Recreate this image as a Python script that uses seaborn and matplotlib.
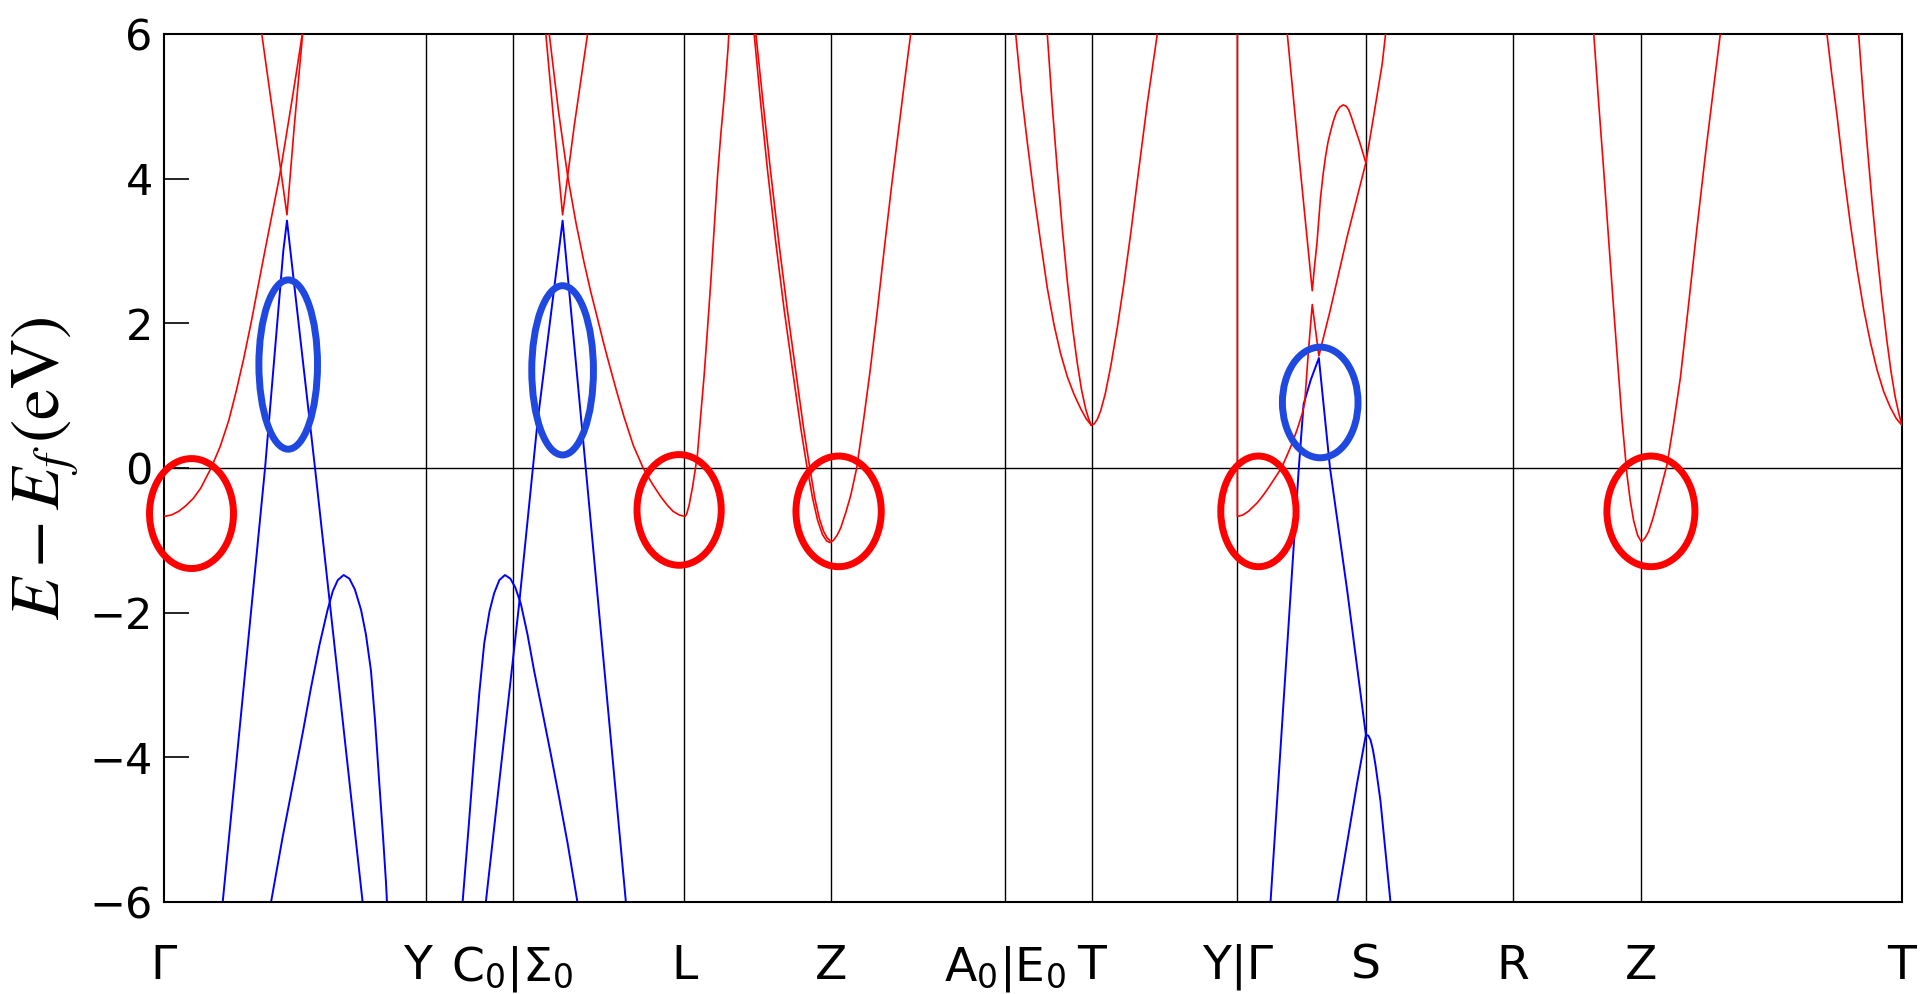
import matplotlib
matplotlib.use("Agg")
import matplotlib.pyplot as plt
import matplotlib.transforms as mtransforms
from matplotlib.patches import Ellipse
import pandas as pd
import seaborn as sns

# ---------------- data ----------------
# high-symmetry points along the k-path (arbitrary path-length units)
tick_k = [0.000, 0.214, 0.285, 0.425, 0.545, 0.687, 0.758, 0.877, 0.982, 1.102, 1.207, 1.420]
tick_labels = ['Γ', 'Y', 'C$_0$|Σ$_0$', 'L', 'Z', 'A$_0$|E$_0$', 'T', 'Y|Γ', 'S', 'R', 'Z', 'T']

# conduction-like (red) band pieces: (k, E - Ef)
gy_red_a = [(0.000, -0.67), (0.006, -0.65), (0.012, -0.60), (0.018, -0.52), (0.024, -0.42),
            (0.030, -0.28), (0.0385, 0.00), (0.046, 0.30), (0.053, 0.66), (0.059, 1.06),
            (0.065, 1.50), (0.0711, 2.00), (0.0770, 2.52), (0.0820, 2.96), (0.0880, 3.48),
            (0.0943, 4.02), (0.0990, 4.50), (0.1038, 5.00), (0.1085, 5.50), (0.1130, 6.00)]
gy_red_b = [(0.0799, 6.00), (0.0902, 4.75), (0.1005, 3.50), (0.1065, 4.73), (0.1133, 6.00)]
sl_red_a = [(0.3120, 6.00), (0.3188, 4.73), (0.3257, 3.50), (0.3352, 4.73), (0.3461, 6.00)]
sl_red_b = [(0.3148, 6.00), (0.3222, 4.95), (0.3298, 4.04), (0.3365, 3.40), (0.3430, 2.86),
            (0.3485, 2.45), (0.3540, 2.08), (0.3590, 1.74), (0.3640, 1.42), (0.3700, 1.05),
            (0.3760, 0.70), (0.3835, 0.31), (0.3915, 0.00), (0.3990, -0.22), (0.4060, -0.40),
            (0.4115, -0.52), (0.4160, -0.60), (0.4210, -0.65), (0.4256, -0.67)]
lz_red_a = [(0.4256, -0.67), (0.4270, -0.64), (0.4290, -0.52), (0.4318, -0.27), (0.4340, -0.03),
            (0.4359, 0.19), (0.4385, 0.72), (0.4413, 1.27), (0.4440, 1.90), (0.4468, 2.58),
            (0.4495, 3.30), (0.4523, 4.04), (0.4550, 4.62), (0.4577, 5.12), (0.4595, 5.50),
            (0.4609, 5.81), (0.4615, 6.00)]
lz_red_b = [(0.4822, 6.00), (0.4875, 5.05), (0.4931, 4.12), (0.5000, 3.10), (0.5067, 2.19),
            (0.5140, 1.30), (0.5203, 0.55), (0.5250, 0.05), (0.5300, -0.42), (0.5340, -0.72),
            (0.5380, -0.92), (0.5415, -1.01), (0.5442, -1.03)]
lz_red_c = [(0.4836, 6.00), (0.4895, 5.05), (0.4955, 4.12), (0.5025, 3.10), (0.5093, 2.19),
            (0.5165, 1.30), (0.5226, 0.55), (0.5272, 0.05), (0.5318, -0.42), (0.5355, -0.70),
            (0.5390, -0.88), (0.5420, -0.97), (0.5442, -1.00)]
za_red = [(0.5442, -1.03), (0.5470, -1.00), (0.5500, -0.93), (0.5529, -0.83), (0.5570, -0.62),
          (0.5611, -0.38), (0.5660, 0.00), (0.5715, 0.65), (0.5770, 1.35), (0.5830, 2.20),
          (0.5890, 3.10), (0.5945, 3.90), (0.6000, 4.65), (0.6050, 5.33), (0.6101, 6.00)]
et_red_a = [(0.6959, 6.00), (0.7005, 5.20), (0.7054, 4.50), (0.7108, 3.78), (0.7163, 3.12),
            (0.7218, 2.48), (0.7272, 1.98), (0.7326, 1.58), (0.7381, 1.26), (0.7435, 1.02),
            (0.7490, 0.82), (0.7535, 0.68), (0.7577, 0.59)]
et_red_b = [(0.7217, 6.00), (0.7258, 5.00), (0.7299, 4.12), (0.7340, 3.30), (0.7381, 2.58),
            (0.7422, 1.96), (0.7462, 1.45), (0.7497, 1.08), (0.7530, 0.82), (0.7555, 0.68),
            (0.7577, 0.59)]
ty_red = [(0.7577, 0.59), (0.7600, 0.61), (0.7625, 0.67), (0.7653, 0.79), (0.7690, 1.02),
          (0.7735, 1.40), (0.7790, 1.95), (0.7843, 2.55), (0.7897, 3.22), (0.7952, 3.96),
          (0.7993, 4.50), (0.8034, 5.04), (0.8075, 5.52), (0.8116, 6.00)]
gs_red_a = [(0.8770, 6.00), (0.8770, -0.67), (0.8815, -0.65), (0.8860, -0.60), (0.8933, -0.48),
            (0.8980, -0.38), (0.9030, -0.26), (0.9080, -0.13), (0.9130, 0.00), (0.9175, 0.17),
            (0.9220, 0.35), (0.9260, 0.54), (0.9300, 0.75), (0.9320, 0.90), (0.9350, 1.60),
            (0.9382, 2.26), (0.9436, 1.55), (0.9530, 2.19), (0.9666, 3.19), (0.9820, 4.22),
            (0.9885, 4.88), (0.9953, 5.58), (0.9981, 6.00)]
gs_red_b = [(0.9178, 6.00), (0.9280, 4.20), (0.9382, 2.45), (0.9400, 2.78), (0.9420, 3.10),
            (0.9449, 3.73), (0.9470, 4.05), (0.9490, 4.30), (0.9510, 4.50), (0.9531, 4.65),
            (0.9555, 4.80), (0.9580, 4.92), (0.9607, 4.99), (0.9635, 5.02), (0.9660, 5.00),
            (0.9680, 4.95), (0.9700, 4.86), (0.9721, 4.75), (0.9770, 4.50), (0.9820, 4.22)]
rz_red = [(1.1682, 6.00), (1.1722, 5.05), (1.1763, 4.12), (1.1804, 3.15), (1.1845, 2.19),
          (1.1880, 1.40), (1.1913, 0.66), (1.1935, 0.25), (1.1954, -0.10), (1.1980, -0.45),
          (1.2008, -0.73), (1.2040, -0.93), (1.2071, -1.02)]
zt_red = [(1.2071, -1.02), (1.2100, -0.97), (1.2130, -0.88), (1.2165, -0.70), (1.2200, -0.48),
          (1.2240, -0.22), (1.2281, 0.05), (1.2335, 0.62), (1.2390, 1.25), (1.2458, 2.28),
          (1.2526, 3.33), (1.2594, 4.33), (1.2662, 5.27), (1.2716, 6.00)]
tz_red_a = [(1.3587, 6.00), (1.3628, 5.42), (1.3669, 4.88), (1.3724, 4.08), (1.3778, 3.38),
            (1.3833, 2.75), (1.3887, 2.20), (1.3942, 1.74), (1.3996, 1.36), (1.4050, 1.06),
            (1.4104, 0.84), (1.4155, 0.68), (1.4200, 0.59)]
tz_red_b = [(1.3846, 6.00), (1.3880, 5.22), (1.3914, 4.50), (1.3955, 3.70), (1.3996, 2.98),
            (1.4037, 2.33), (1.4077, 1.76), (1.4111, 1.33), (1.4145, 0.98), (1.4175, 0.75),
            (1.4200, 0.59)]

# valence-like (blue) band pieces
gy_blue_a = [(0.0480, -6.00), (0.0826, 0.00), (0.0975, 3.00), (0.1005, 3.42), (0.1234, 0.00),
             (0.1623, -6.00)]
gy_blue_b = [(0.0875, -6.00), (0.0970, -5.10), (0.1065, -4.27), (0.1135, -3.65), (0.1201, -3.04),
             (0.1270, -2.45), (0.1337, -1.96), (0.1380, -1.70), (0.1420, -1.55), (0.1468, -1.48),
             (0.1515, -1.53), (0.1560, -1.68), (0.1610, -1.96), (0.1650, -2.30), (0.1691, -2.80),
             (0.1725, -3.50), (0.1759, -4.35), (0.1790, -5.10), (0.1814, -5.73), (0.1822, -6.00)]
ys_blue_a = [(0.2440, -6.00), (0.2490, -4.95), (0.2535, -3.96), (0.2577, -3.10), (0.2617, -2.42),
             (0.2660, -1.98), (0.2698, -1.73), (0.2740, -1.55), (0.2786, -1.48), (0.2830, -1.53),
             (0.2870, -1.65), (0.2916, -1.88), (0.2970, -2.30), (0.3025, -2.81), (0.3093, -3.38),
             (0.3161, -3.96), (0.3230, -4.57), (0.3298, -5.19), (0.3378, -6.00)]
ys_blue_b = [(0.2630, -6.00), (0.2902, -1.88), (0.3053, 0.65), (0.3257, 3.42), (0.3446, 0.00),
             (0.3774, -6.00)]
gs_blue_a = [(0.9041, -6.00), (0.9272, 0.00), (0.9311, 0.88), (0.9370, 1.22), (0.9436, 1.52),
             (0.9470, 0.95), (0.9527, 0.00), (0.9668, -1.70), (0.9820, -3.69)]
gs_blue_b = [(0.9586, -6.00), (0.9749, -4.35), (0.9820, -3.69), (0.9840, -3.70), (0.9858, -3.76),
             (0.9878, -3.90), (0.9898, -4.10), (0.9939, -4.60), (0.9980, -5.30), (1.0021, -6.00)]

red_bands = {'gy_a': gy_red_a, 'gy_b': gy_red_b, 'sl_a': sl_red_a, 'sl_b': sl_red_b,
             'lz_a': lz_red_a, 'lz_b': lz_red_b, 'lz_c': lz_red_c, 'za': za_red,
             'et_a': et_red_a, 'et_b': et_red_b, 'ty': ty_red, 'gs_a': gs_red_a,
             'gs_b': gs_red_b, 'rz': rz_red, 'zt': zt_red, 'tz_a': tz_red_a, 'tz_b': tz_red_b}
blue_bands = {'gy_a': gy_blue_a, 'gy_b': gy_blue_b, 'ys_a': ys_blue_a, 'ys_b': ys_blue_b,
              'gs_a': gs_blue_a, 'gs_b': gs_blue_b}

# highlighted regions: (k centre, E centre, k width, E height)
red_marks = [(0.0225, -0.63, 0.0686, 1.52), (0.4209, -0.58, 0.0688, 1.53),
             (0.5512, -0.60, 0.0697, 1.53), (0.8942, -0.60, 0.0615, 1.53),
             (1.2149, -0.60, 0.0719, 1.53)]
blue_marks = [(0.1015, 1.43, 0.0479, 2.34), (0.3257, 1.35, 0.0504, 2.34),
              (0.9447, 0.906, 0.0618, 1.53)]

# ---------------- plot ----------------
sns.set_style("white")
plt.rcParams['font.family'] = ['DejaVu Sans']
plt.rcParams['mathtext.fontset'] = 'custom'
plt.rcParams['mathtext.rm'] = 'DejaVu Sans'
plt.rcParams['mathtext.it'] = 'DejaVu Sans:italic'
plt.rcParams['mathtext.bf'] = 'DejaVu Sans:bold'

fig = plt.figure(figsize=(19.2, 9.94), dpi=100)
ax = fig.add_axes([0.0854, 0.0926, 0.9052, 0.8732])


def to_frame(bands):
    rows = []
    for name, pts in bands.items():
        for i, (k, e) in enumerate(pts):
            rows.append({'band': name, 'order': i, 'k': k, 'E': e})
    return pd.DataFrame(rows)


df_red = to_frame(red_bands)
df_blue = to_frame(blue_bands)

for k in tick_k[1:-1]:
    ax.axvline(k, color='black', lw=1.0, zorder=1)
ax.axhline(0, color='black', lw=1.0, zorder=1)

sns.lineplot(data=df_blue, x='k', y='E', units='band', estimator=None, sort=False,
             color='#0000ff', lw=1.4, ax=ax, zorder=2)
sns.lineplot(data=df_red, x='k', y='E', units='band', estimator=None, sort=False,
             color='#ff0000', lw=1.2, ax=ax, zorder=3)

for (kc, ec, w, h) in red_marks:
    ax.add_patch(Ellipse((kc, ec), w, h, fill=False, ec='#ff0000', lw=5, zorder=4, clip_on=False))
for (kc, ec, w, h) in blue_marks:
    ax.add_patch(Ellipse((kc, ec), w, h, fill=False, ec='#1f48e0', lw=5, zorder=4, clip_on=False))

ax.set_xlim(tick_k[0], tick_k[-1])
ax.set_ylim(-6, 6)
ax.set_yticks([-6, -4, -2, 0, 2, 4, 6])
ax.set_xticks(tick_k)
ax.set_xticklabels(tick_labels)
ax.set_xlabel('')
ax.set_ylabel('')
ax.tick_params(axis='y', direction='in', length=18, width=1.2, labelsize=31, pad=8,
               left=True, right=False, colors='black')
ax.tick_params(axis='x', length=0, labelsize=34, pad=30, colors='black')
xlabels = ax.get_xticklabels()
for t in xlabels:
    t.set_math_fontfamily('custom')
# the lone "Y" label sits slightly left of its line in the original
shift = mtransforms.ScaledTranslation(-8 / 100, 0, fig.dpi_scale_trans)
xlabels[1].set_transform(xlabels[1].get_transform() + shift)

for s in ax.spines.values():
    s.set_color('black')
    s.set_linewidth(1.5)
    s.set_visible(True)

fig.text(0.0234, 0.529, r'$E-E_f\,(\mathrm{eV})$', rotation=90, ha='center', va='center',
         fontsize=50, math_fontfamily='stix', color='black')

fig.savefig('out.png', dpi=100, facecolor='white')
